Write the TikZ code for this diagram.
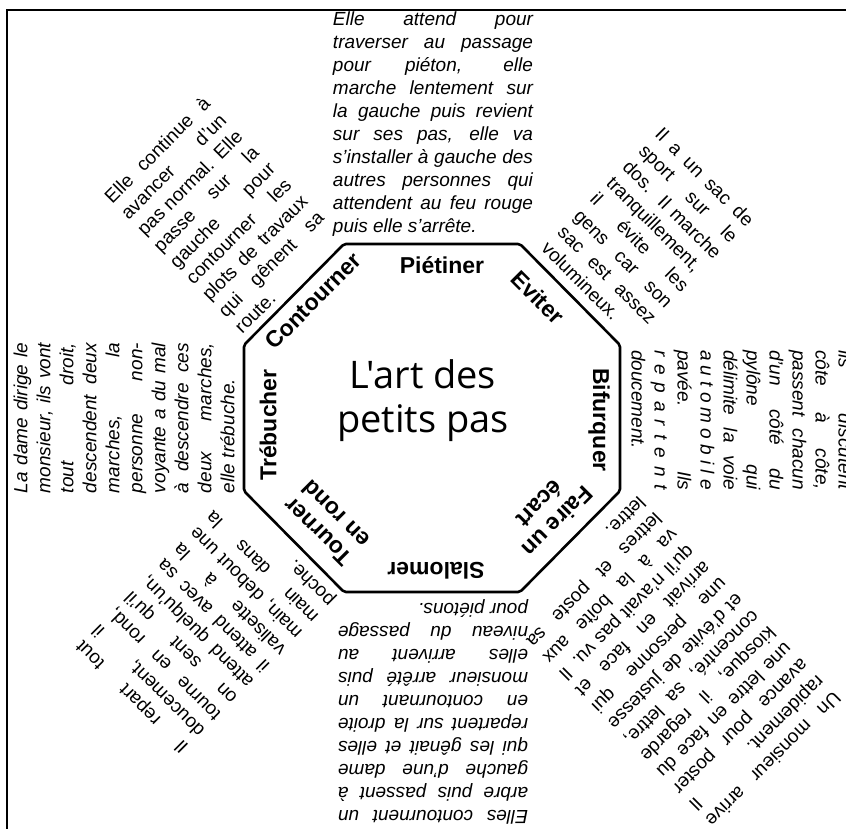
\documentclass[tikz,border=0pt]{standalone}
\usepackage{fontspec}
\setmainfont{Liberation Sans}
\newfontfamily\titrefont{Open Sans}
\usetikzlibrary{positioning}
\newcommand\blocfont{\fontsize{19}{23}\selectfont\tolerance=10000 \hyphenpenalty=10000 \hbadness=10000 }

\begin{document}
\begin{tikzpicture}[x=1pt,y=1pt]
\tikzstyle{bloc}=[inner sep=0pt,align=justify,font=\blocfont]
\tikzstyle{blocit}=[bloc,font=\blocfont\itshape]
\tikzstyle{etiq}=[inner sep=0pt,align=center,font=\fontsize{23}{25}\selectfont\bfseries]
\tikzstyle{oct}=[line width=2.6pt,rounded corners=2pt,line join=round]
\useasboundingbox (-432,-410) rectangle (414,418);
\clip (-432,-410) rectangle (414,418);
\draw[line width=2.4pt] (-425,-420) -- (-425,408) -- (420,408);
% octogone central
\draw[oct] (-88,174) -- (88,174) -- (188,73) -- (188,-73) -- (88,-174) -- (-88,-174) -- (-188,-73) -- (-188,73) -- cycle;
\node[align=center,inner sep=0pt,font=\titrefont\fontsize{38}{44}\selectfont] (titre) at (-9,17) {L'art des\\petits pas};
\node[etiq] (pie) at (10,153) {Piétiner};
\node[etiq,rotate=-45] (evi) at (106,121) {Eviter};
\node[etiq,rotate=-90] (bif) at (167,-2) {Bifurquer};
\node[etiq,rotate=-135] (fai) at (117,-95) {Faire un\\écart};
\node[etiq,rotate=180] (sla) at (4,-153) {Slalomer};
\node[etiq,rotate=135] (tou) at (-105,-105) {Tourner\\en rond};
\node[etiq,rotate=90] (tre) at (-164,-7) {Trébucher};
\node[etiq,rotate=45] (con) at (-119,117) {Contourner};
% textes autour
\node[blocit,text width=200pt,anchor=north] (tpie) at (1,406) {Elle attend pour\linebreak
traverser au passage\linebreak
pour piéton, elle\linebreak
marche lentement sur\linebreak
la gauche puis revient\linebreak
sur ses pas, elle va\linebreak
s'installer à gauche des\linebreak
autres personnes qui\linebreak
attendent au feu rouge\linebreak
puis elle s'arrête.};
\node[bloc,text width=130pt,rotate=-45] (tevi) at (216,184) {Il a un sac de\linebreak
sport sur le\linebreak
dos. Il marche\linebreak
tranquillement,\linebreak
il évite les\linebreak
gens car son\linebreak
sac est assez\linebreak
volumineux.};
\node[blocit,text width=140pt,rotate=-90] (tbif) at (310,-2) {ils discutent\linebreak
côte à côte,\linebreak
passent chacun\linebreak
d'un côté du\linebreak
pylône qui\linebreak
délimite la voie\linebreak
a\hfill u\hfill t\hfill o\hfill m\hfill o\hfill b\hfill i\hfill l\hfill e\linebreak
pavée. Ils\linebreak
r\hfill e\hfill p\hfill a\hfill r\hfill t\hfill e\hfill n\hfill t\linebreak
doucement.};
\node[bloc,text width=182pt,rotate=-135] (tfai) at (244,-244) {Un monsieur arrive\linebreak
rapidement. Il\linebreak
avance pour poster\linebreak
une lettre en face du\linebreak
kiosque, il regarde\linebreak
concentré, sa lettre,\linebreak
et d'évite de justesse\linebreak
une personne qui\linebreak
arrivait en face et\linebreak
qu'il n'avait pas vu. Il\linebreak
va à la boîte aux\linebreak
lettres et poste sa\linebreak
lettre.};
\node[blocit,text width=190pt,rotate=180] (tsla) at (1,-294) {Elles contournent un\linebreak
arbre puis passent à\linebreak
gauche d'une dame\linebreak
qui les gênait et elles\linebreak
repartent sur la droite\linebreak
en contournant un\linebreak
monsieur arrêté puis\linebreak
elles arrivent au\linebreak
niveau du passage\linebreak
pour piétons.};
\node[bloc,text width=150pt,rotate=135] (ttou) at (-226,-205) {Il repart tout\linebreak
doucement, il\linebreak
tourne en rond,\linebreak
on sent qu'il\linebreak
attend quelqu'un,\linebreak
il attend avec sa\linebreak
valisette à la\linebreak
main, debout une\linebreak
main dans la\linebreak
poche.};
\node[blocit,text width=150pt,rotate=90] (ttre) at (-308,0) {La dame dirige le\linebreak
monsieur, ils vont\linebreak
tout droit,\linebreak
descendent deux\linebreak
marches, la\linebreak
personne non-\linebreak
voyante a du mal\linebreak
à descendre ces\linebreak
deux marches,\linebreak
elle trébuche.};
\node[bloc,text width=140pt,rotate=45] (tcon) at (-210,203) {Elle continue à\linebreak
avancer d'un\linebreak
pas normal. Elle\linebreak
passe sur la\linebreak
gauche pour\linebreak
contourner les\linebreak
plots de travaux\linebreak
qui gênent sa\linebreak
route.};
\end{tikzpicture}
\end{document}
